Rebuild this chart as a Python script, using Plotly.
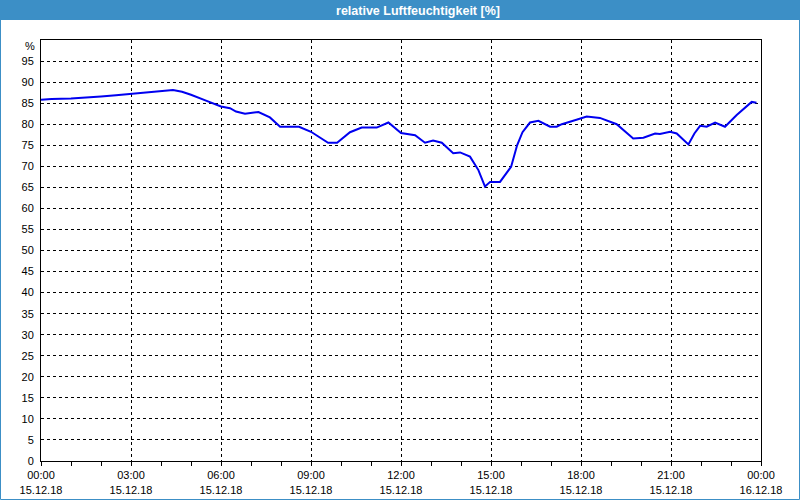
import pandas as pd
import plotly.graph_objects as go

# time in hours since 15.12.18 00:00
hours = [0.0, 0.35, 1.0, 1.5, 2.0, 2.5, 3.0, 3.5, 4.0, 4.4, 4.7, 5.0, 5.5, 6.0, 6.3, 6.5,
         6.8, 7.0, 7.25, 7.63, 7.97, 8.6, 9.0, 9.57, 9.87, 10.3, 10.69, 11.19, 11.58, 12.0,
         12.47, 12.8, 13.07, 13.36, 13.74, 13.97, 14.3, 14.58, 14.8, 14.97, 15.3, 15.67,
         15.87, 16.05, 16.3, 16.58, 16.97, 17.19, 17.36, 17.74, 18.19, 18.63, 19.19, 19.74,
         20.08, 20.47, 20.63, 20.97, 21.19, 21.58, 21.78, 21.97, 22.19, 22.47, 22.8, 23.19,
         23.69, 23.85]
humidity = [85.8, 86.0, 86.1, 86.3, 86.6, 86.9, 87.2, 87.5, 87.8, 88.1, 87.7, 87.0, 85.6,
            84.2, 83.8, 83.0, 82.5, 82.6, 82.9, 81.6, 79.4, 79.4, 78.2, 75.6, 75.6, 78.1,
            79.2, 79.2, 80.4, 77.9, 77.4, 75.6, 76.1, 75.6, 73.1, 73.3, 72.3, 69.1, 65.2,
            66.3, 66.3, 69.9, 75.0, 78.1, 80.4, 80.8, 79.4, 79.4, 80.0, 80.8, 81.8, 81.5,
            80.0, 76.6, 76.8, 77.8, 77.7, 78.2, 77.8, 75.2, 77.8, 79.6, 79.4, 80.4, 79.4,
            82.2, 85.3, 85.1]
y_ticks = list(range(0, 100, 5))
y_ticktext = [str(v) for v in y_ticks]
unit_label = "%"
title_text = "relative Luftfeuchtigkeit [%]"

start = pd.Timestamp("2018-12-15 00:00")
times = [start + pd.Timedelta(hours=h) for h in hours]
x_range = [start, start + pd.Timedelta(hours=24)]

BLUE_BAR = "#3c8fc6"
FONT = "Liberation Sans, Arial, sans-serif"

fig = go.Figure()
fig.add_trace(go.Scatter(x=times, y=humidity, mode="lines",
                         line=dict(color="#0000f0", width=2), showlegend=False,
                         hoverinfo="skip"))
fig.add_trace(go.Scatter(x=times, y=humidity, mode="lines", xaxis="x2",
                         line=dict(color="rgba(0,0,0,0)", width=0), showlegend=False,
                         hoverinfo="skip"))

W, H = 800, 500
L, R, T, B = 41, 39, 40, 39
pw, ph = W - L - R, H - T - B

grid = dict(showgrid=True, gridcolor="black", gridwidth=1, griddash="3px,3px",
            showline=True, linecolor="black", linewidth=1, mirror=True,
            zeroline=False, fixedrange=True, automargin=False)

fig.update_layout(
    width=W, height=H,
    margin=dict(l=L, r=R, t=T, b=B, autoexpand=False),
    paper_bgcolor="white", plot_bgcolor="white",
    font=dict(family=FONT, size=11, color="black"),
    title=dict(text="<b>" + title_text + "</b>", x=418 / W, xanchor="center",
               y=1 - 10.5 / H, yanchor="middle",
               font=dict(family=FONT, size=12.5, color="white")),
    xaxis=dict(type="date", range=x_range, dtick=3 * 3600000, tickformat="%H:%M",
               ticks="outside", ticklen=4, tickcolor="black",
               minor=dict(dtick=3600000, ticks="outside", ticklen=4, tickcolor="black",
                          showgrid=False),
               **grid),
    xaxis2=dict(type="date", range=x_range, dtick=3 * 3600000, tickformat="%d.%m.%y",
                overlaying="x", anchor="y", side="bottom", showgrid=False,
                showline=False, ticks="", ticklabelstandoff=21, zeroline=False,
                automargin=False),
    yaxis=dict(range=[0, 100], tickvals=y_ticks, ticktext=y_ticktext,
               ticks="", ticklabelstandoff=4, **grid),
    annotations=[dict(text=unit_label, xref="paper", yref="y", x=0, y=100,
                      xanchor="right", yanchor="middle", xshift=-4, yshift=-6,
                      showarrow=False, font=dict(family=FONT, size=11, color="black"))],
    shapes=[
        dict(type="rect", xref="paper", yref="paper",
             x0=-L / pw, x1=(W - L) / pw, y0=1 + (T - 20) / ph, y1=1 + T / ph,
             fillcolor=BLUE_BAR, line=dict(width=0), layer="below"),
        dict(type="rect", xref="paper", yref="paper",
             x0=-(L - 0.5) / pw, x1=(W - L - 0.5) / pw, y0=-(B - 0.5) / ph, y1=1 + T / ph,
             fillcolor="rgba(0,0,0,0)", line=dict(color=BLUE_BAR, width=1), layer="below"),
    ],
)

fig.write_html("out.html")
